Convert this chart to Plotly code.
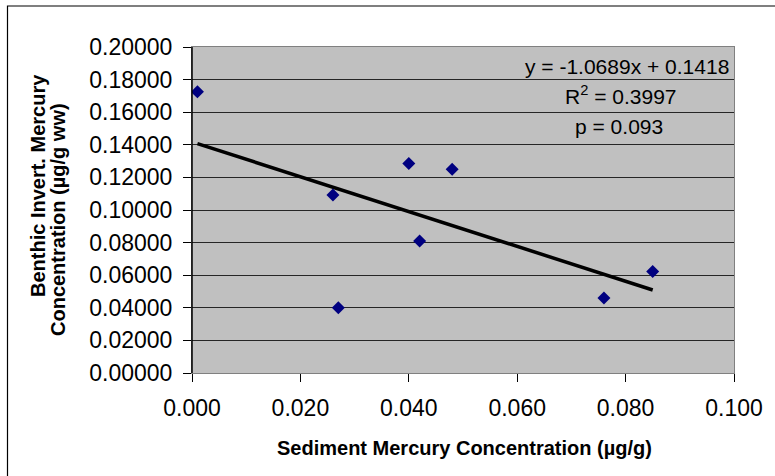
import plotly.graph_objects as go

# Sediment vs. benthic invertebrate mercury (µg/g)
sediment_hg = [0.001, 0.026, 0.027, 0.040, 0.042, 0.048, 0.076, 0.085]
benthic_hg = [0.1725, 0.1092, 0.0400, 0.1285, 0.0810, 0.1250, 0.0460, 0.0622]

# Linear fit reported for the series
slope = -1.0689
intercept = 0.1418
r_squared = 0.3997
p_value = 0.093

x_ticks = [0.0, 0.02, 0.04, 0.06, 0.08, 0.10]
y_ticks = [0.0, 0.02, 0.04, 0.06, 0.08, 0.10, 0.12, 0.14, 0.16, 0.18, 0.20]

W, H = 775, 476
ML, MR, MT, MB = 192, 41, 47, 103
PW, PH = W - ML - MR, H - MT - MB


def px(xp):
    return (xp - ML) / PW


def py(yp):
    return (H - MB - yp) / PH


FONT = "Arial, Liberation Sans, sans-serif"

trend_x = [min(sediment_hg), max(sediment_hg)]
trend_y = [slope * v + intercept for v in trend_x]

fig = go.Figure()
fig.add_trace(go.Scatter(
    x=trend_x, y=trend_y, mode="lines",
    line=dict(color="black", width=3.5), hoverinfo="skip", showlegend=False,
))
fig.add_trace(go.Scatter(
    x=sediment_hg, y=benthic_hg, mode="markers",
    marker=dict(symbol="diamond", size=10, color="#000080", line=dict(width=0)),
    showlegend=False,
))

fig.update_layout(
    width=W, height=H,
    margin=dict(l=ML, r=MR, t=MT, b=MB, pad=0),
    paper_bgcolor="white",
    plot_bgcolor="#C0C0C0",
    font=dict(family=FONT, color="black"),
    showlegend=False,
)

fig.update_xaxes(
    range=[0, 0.1], tickvals=x_ticks, tickformat=".3f",
    showgrid=False, zeroline=False,
    showline=True, linecolor="#808080", linewidth=1, mirror=True,
    ticks="outside", ticklen=8, tickcolor="black", tickwidth=1,
    tickfont=dict(size=23, family=FONT), ticklabelstandoff=6,
)
fig.update_yaxes(
    range=[0, 0.2], tickvals=y_ticks, tickformat=".5f",
    showgrid=True, gridcolor="#262626", gridwidth=1, zeroline=False,
    showline=True, linecolor="#808080", linewidth=1, mirror=True,
    ticks="outside", ticklen=8, tickcolor="black", tickwidth=1,
    tickfont=dict(size=23, family=FONT), ticklabelstandoff=6,
)

shapes = [
    # left axis drawn dark
    dict(type="line", xref="paper", yref="paper", x0=0, x1=0, y0=0, y1=1,
         line=dict(color="black", width=1.5)),
    # chart frame
    dict(type="rect", xref="paper", yref="paper",
         x0=px(7.5), x1=px(W + 10), y0=py(H + 10), y1=py(6),
         line=dict(color="black", width=1.2), fillcolor="rgba(0,0,0,0)", layer="above"),
]
fig.update_layout(shapes=shapes)

ann_font = dict(size=21, family=FONT, color="black")
annotations = [
    dict(text=f"y = {slope:.4f}x + {intercept:.4f}", x=px(731), y=py(66),
         xanchor="right", yanchor="middle"),
    dict(text=f"R<sup>2</sup> = {r_squared:.4f}", x=px(621), y=py(95),
         xanchor="center", yanchor="middle"),
    dict(text=f"p = {p_value:.3f}", x=px(619), y=py(126),
         xanchor="center", yanchor="middle"),
]
for a in annotations:
    a.update(xref="paper", yref="paper", showarrow=False, font=ann_font)

title_font = dict(size=20, family=FONT, color="black", weight="bold")
annotations += [
    dict(text="Sediment Mercury Concentration (µg/g)", x=px(464), y=py(448),
         xanchor="center", yanchor="middle", font=title_font),
    dict(text="Benthic Invert. Mercury", x=px(38), y=py(186), textangle=-90,
         xanchor="center", yanchor="middle", font=title_font),
    dict(text="Concentration (µg/g ww)", x=px(58), y=py(220), textangle=-90,
         xanchor="center", yanchor="middle", font=title_font),
]
for a in annotations[3:]:
    a.update(xref="paper", yref="paper", showarrow=False)

fig.update_layout(annotations=annotations)

fig.write_html("out.html")
